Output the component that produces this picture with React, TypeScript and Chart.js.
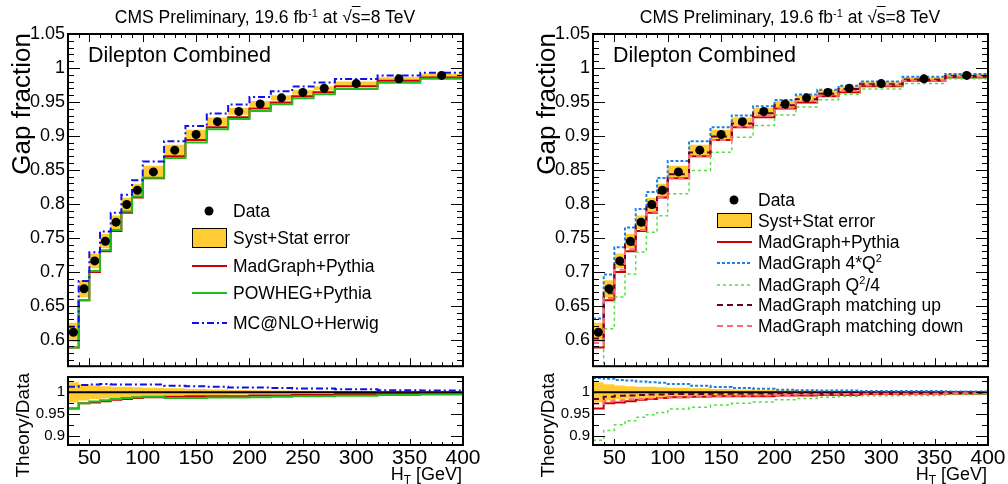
import React, { useEffect, useRef } from "react";
import { Chart, registerables } from "chart.js";

Chart.register(...registerables);

const FONT = '"Liberation Sans", Arial, Helvetica, sans-serif';
Chart.defaults.font.family = FONT;

// ---------------- data ----------------
const binEdges = [30, 40, 50, 60, 70, 80, 90, 100, 120, 140, 160, 180, 200, 220, 240, 260, 280, 320, 360, 400];

const gapData = [0.611, 0.675, 0.716, 0.745, 0.773, 0.799, 0.820, 0.847, 0.879, 0.902, 0.921, 0.936, 0.947, 0.956, 0.964, 0.970, 0.977, 0.984, 0.989];
const gapErr = [0.014, 0.0125, 0.011, 0.0105, 0.010, 0.010, 0.0095, 0.009, 0.008, 0.007, 0.006, 0.005, 0.0045, 0.004, 0.0035, 0.003, 0.003, 0.0025, 0.0025];

// Theory / Data ratios
const ratioMadGraph = [0.963, 0.975, 0.977, 0.980, 0.983, 0.985, 0.987, 0.989, 0.990, 0.991, 0.991, 0.991, 0.993, 0.993, 0.994, 0.994, 0.996, 0.997, 0.997];
const ratioPowheg = [0.963, 0.975, 0.979, 0.982, 0.985, 0.987, 0.989, 0.990, 0.987, 0.987, 0.988, 0.988, 0.989, 0.990, 0.991, 0.991, 0.992, 0.994, 0.995];
const ratioMcatnlo = [1.013, 1.017, 1.018, 1.019, 1.018, 1.018, 1.018, 1.018, 1.015, 1.014, 1.013, 1.011, 1.011, 1.010, 1.009, 1.009, 1.007, 1.005, 1.004];
const ratioScaleUp = [1.033, 1.031, 1.028, 1.027, 1.025, 1.023, 1.022, 1.019, 1.015, 1.012, 1.010, 1.008, 1.006, 1.005, 1.004, 1.004, 1.003, 1.003, 1.002];
const ratioScaleDown = [0.891, 0.913, 0.926, 0.935, 0.943, 0.949, 0.954, 0.962, 0.966, 0.971, 0.975, 0.978, 0.983, 0.986, 0.989, 0.991, 0.992, 0.993, 0.995];
const ratioMatchUp = [0.985, 0.990, 0.992, 0.993, 0.994, 0.995, 0.995, 0.996, 0.996, 0.997, 0.997, 0.997, 0.998, 0.998, 0.998, 0.999, 0.999, 0.999, 0.999];
const ratioMatchDown = [0.974, 0.980, 0.982, 0.984, 0.985, 0.986, 0.987, 0.989, 0.990, 0.991, 0.992, 0.993, 0.994, 0.995, 0.995, 0.996, 0.997, 0.997, 0.998];

const ratioUnity = [1, 1];

const xTicks = [50, 100, 150, 200, 250, 300, 350, 400];
const yTicksMain = [0.6, 0.65, 0.7, 0.75, 0.8, 0.85, 0.9, 0.95, 1.0, 1.05];
const yTicksRatio = [0.9, 0.95, 1.0];

// ---------------- layout / style ----------------
const X_MIN = 30, X_MAX = 400;
const MAIN_Y_MIN = 0.561, MAIN_Y_MAX = 1.05;
const RATIO_Y_MIN = 0.88, RATIO_Y_MAX = 1.035;
const BAND_COLOR = "#ffcc33";
const CANVAS_W = 483;
const LEGEND_SIZE = 17.5;

type Seg = { t: string; sup?: boolean };
type Series = { label: Seg[]; ratio: number[]; color: string; dash: number[]; width: number };

const leftSeries: Series[] = [
  { label: [{ t: "MadGraph+Pythia" }], ratio: ratioMadGraph, color: "#cc0000", dash: [], width: 2 },
  { label: [{ t: "POWHEG+Pythia" }], ratio: ratioPowheg, color: "#22bb22", dash: [], width: 2 },
  { label: [{ t: "MC@NLO+Herwig" }], ratio: ratioMcatnlo, color: "#1010ee", dash: [7, 3, 2, 3], width: 2 },
];

const rightSeries: Series[] = [
  { label: [{ t: "MadGraph+Pythia" }], ratio: ratioMadGraph, color: "#cc0000", dash: [], width: 2 },
  { label: [{ t: "MadGraph 4*Q" }, { t: "2", sup: true }], ratio: ratioScaleUp, color: "#2080dd", dash: [3, 2], width: 2 },
  { label: [{ t: "MadGraph Q" }, { t: "2", sup: true }, { t: "/4" }], ratio: ratioScaleDown, color: "#55dd44", dash: [3, 3], width: 1.5 },
  { label: [{ t: "MadGraph matching up" }], ratio: ratioMatchUp, color: "#660033", dash: [6, 4], width: 2 },
  { label: [{ t: "MadGraph matching down" }], ratio: ratioMatchDown, color: "#ff6b6b", dash: [6, 4], width: 2 },
];

const binCenters = binEdges.slice(0, -1).map((e, i) => (e + binEdges[i + 1]) / 2);

// step-histogram points: value of bin i drawn from edge i to edge i+1
function hist(vals: number[]) {
  return binEdges.map((e, i) => ({ x: e, y: vals[Math.min(i, vals.length - 1)] }));
}

const fmtTick = (v: any) => String(Number(Number(v).toFixed(3)));

// ---------------- plugins ----------------
type FrameCfg = {
  yMajor: number[]; yMinorStep: number; yMajLen: number; yMinLen: number;
  xMajLen: number; xMinLen: number; xTopMajLen: number; xTopMinLen: number;
};

function makeFramePlugin(f: FrameCfg) {
  return {
    id: "rootFrame",
    afterDatasetsDraw(chart: any) {
      const { ctx, chartArea: a } = chart;
      const xs = chart.scales.x, ys = chart.scales.y;
      ctx.save();
      ctx.strokeStyle = "#000";
      ctx.lineWidth = 1;
      ctx.setLineDash([]);
      ctx.beginPath();
      for (let k = Math.ceil(X_MIN / 10); k <= Math.floor(X_MAX / 10); k++) {
        const v = k * 10;
        const major = xTicks.indexOf(v) >= 0;
        const p = Math.round(xs.getPixelForValue(v)) + 0.5;
        const lb = major ? f.xMajLen : f.xMinLen;
        const lt = major ? f.xTopMajLen : f.xTopMinLen;
        ctx.moveTo(p, a.bottom); ctx.lineTo(p, a.bottom - lb);
        if (lt > 0) { ctx.moveTo(p, a.top); ctx.lineTo(p, a.top + lt); }
      }
      const ymin = ys.min, ymax = ys.max;
      for (let k = Math.ceil(ymin / f.yMinorStep - 1e-6); k <= Math.floor(ymax / f.yMinorStep + 1e-6); k++) {
        const v = k * f.yMinorStep;
        const major = f.yMajor.some((m) => Math.abs(m - v) < 1e-6);
        const p = Math.round(ys.getPixelForValue(v)) + 0.5;
        const l = major ? f.yMajLen : f.yMinLen;
        ctx.moveTo(a.left, p); ctx.lineTo(a.left + l, p);
        ctx.moveTo(a.right, p); ctx.lineTo(a.right - l, p);
      }
      ctx.stroke();
      ctx.lineWidth = 2;
      ctx.strokeRect(a.left, a.top, a.right - a.left, a.bottom - a.top);
      ctx.restore();
    },
  };
}

type LegendEntry =
  | { kind: "marker"; y: number; label: Seg[] }
  | { kind: "box"; y: number; h: number; label: Seg[] }
  | { kind: "line"; y: number; label: Seg[]; color: string; dash: number[]; width: number };

function makeLegendPlugin(entries: LegendEntry[], size: number) {
  const x0 = 192, x1 = 227, textX = 233, markerX = 209;
  return {
    id: "rootLegend",
    afterDraw(chart: any) {
      const ctx = chart.ctx;
      ctx.save();
      for (const en of entries) {
        const y = en.y;
        if (en.kind === "marker") {
          ctx.beginPath();
          ctx.arc(markerX, y, 4.5, 0, Math.PI * 2);
          ctx.fillStyle = "#000";
          ctx.fill();
        } else if (en.kind === "box") {
          ctx.fillStyle = BAND_COLOR;
          ctx.fillRect(x0, y - en.h / 2, x1 - x0, en.h);
          ctx.strokeStyle = "#000";
          ctx.lineWidth = 1;
          ctx.setLineDash([]);
          ctx.strokeRect(x0 + 0.5, y - en.h / 2 + 0.5, x1 - x0 - 1, en.h - 1);
        } else {
          ctx.beginPath();
          ctx.setLineDash(en.dash);
          ctx.strokeStyle = en.color;
          ctx.lineWidth = en.width;
          ctx.moveTo(x0, y);
          ctx.lineTo(x1, y);
          ctx.stroke();
          ctx.setLineDash([]);
        }
        let x = textX;
        const base = y + 0.36 * size;
        ctx.fillStyle = "#000";
        ctx.textBaseline = "alphabetic";
        ctx.textAlign = "left";
        for (const seg of en.label) {
          const sz = seg.sup ? Math.round(size * 0.65) : size;
          ctx.font = `${sz}px ${FONT}`;
          ctx.fillText(seg.t, x, seg.sup ? base - size * 0.42 : base);
          x += ctx.measureText(seg.t).width;
        }
      }
      ctx.restore();
    },
  };
}

// ---------------- configs ----------------
function lineDs(label: string, data: any[], s: { color: string; dash: number[]; width: number }, order: number) {
  return {
    label,
    data,
    stepped: "before",
    borderColor: s.color,
    borderWidth: s.width,
    borderDash: s.dash,
    pointRadius: 0,
    fill: false,
    order,
  };
}

function bandDs(up: number[], down: number[]) {
  return [
    { label: "band up", data: hist(up), stepped: "before", borderColor: "rgba(0,0,0,0)", borderWidth: 0, pointRadius: 0, fill: false, order: 30 },
    { label: "band down", data: hist(down), stepped: "before", borderColor: "rgba(0,0,0,0)", borderWidth: 0, pointRadius: 0, fill: "-1", backgroundColor: BAND_COLOR, order: 29 },
  ];
}

function mainConfig(series: Series[], legend: LegendEntry[]): any {
  const datasets: any[] = [
    ...bandDs(gapData.map((v, i) => v + gapErr[i]), gapData.map((v, i) => v - gapErr[i])),
    ...series.map((s, k) => lineDs(s.label.map((x) => x.t).join(""), hist(gapData.map((v, i) => v * s.ratio[i])), s, 10 - k)),
    {
      label: "Data",
      data: binCenters.map((x, i) => ({ x, y: gapData[i] })),
      showLine: false,
      pointRadius: 4.5,
      pointHoverRadius: 4.5,
      pointBackgroundColor: "#000",
      pointBorderColor: "#000",
      pointBorderWidth: 0,
      order: 0,
    },
  ];
  return {
    type: "line",
    data: { datasets },
    options: {
      animation: false,
      responsive: false,
      maintainAspectRatio: false,
      events: [],
      layout: { padding: { left: 0, right: CANVAS_W - 463, top: 34, bottom: 5 } },
      scales: {
        x: { type: "linear", min: X_MIN, max: X_MAX, display: false },
        y: {
          type: "linear",
          min: MAIN_Y_MIN,
          max: MAIN_Y_MAX,
          afterFit: (s: any) => { s.width = 68; },
          afterBuildTicks: (s: any) => { s.ticks = yTicksMain.map((v) => ({ value: v })); },
          grid: { display: false, drawTicks: false, tickLength: 0 },
          border: { display: false },
          ticks: { autoSkip: false, padding: 3, color: "#000", font: { family: FONT, size: 18 }, callback: fmtTick },
        },
      },
      plugins: { legend: { display: false }, tooltip: { enabled: false } },
    },
    plugins: [
      makeFramePlugin({ yMajor: yTicksMain, yMinorStep: 0.01, yMajLen: 12, yMinLen: 6, xMajLen: 8, xMinLen: 4, xTopMajLen: 8, xTopMinLen: 4 }),
      makeLegendPlugin(legend, LEGEND_SIZE),
    ],
  };
}

function ratioConfig(series: Series[]): any {
  const datasets: any[] = [
    ...bandDs(gapData.map((v, i) => 1 + gapErr[i] / v), gapData.map((v, i) => 1 - gapErr[i] / v)),
    { ...lineDs("unity", [{ x: X_MIN, y: ratioUnity[0] }, { x: X_MAX, y: ratioUnity[1] }], { color: "#000", dash: [], width: 2 }, 20), stepped: false },
    ...series.map((s, k) => lineDs(s.label.map((x) => x.t).join(""), hist(s.ratio), s, 10 - k)),
  ];
  return {
    type: "line",
    data: { datasets },
    options: {
      animation: false,
      responsive: false,
      maintainAspectRatio: false,
      events: [],
      layout: { padding: { left: 0, right: CANVAS_W - 463, top: 10, bottom: 0 } },
      scales: {
        x: {
          type: "linear",
          min: X_MIN,
          max: X_MAX,
          afterFit: (s: any) => { s.height = 39; },
          afterBuildTicks: (s: any) => { s.ticks = xTicks.map((v) => ({ value: v })); },
          grid: { display: false, drawTicks: false, tickLength: 0 },
          border: { display: false },
          ticks: { autoSkip: false, maxRotation: 0, minRotation: 0, padding: 1, color: "#000", font: { family: FONT, size: 21 }, callback: fmtTick },
        },
        y: {
          type: "linear",
          min: RATIO_Y_MIN,
          max: RATIO_Y_MAX,
          afterFit: (s: any) => { s.width = 68; },
          afterBuildTicks: (s: any) => { s.ticks = yTicksRatio.map((v) => ({ value: v })); },
          grid: { display: false, drawTicks: false, tickLength: 0 },
          border: { display: false },
          ticks: { autoSkip: false, padding: 3, color: "#000", font: { family: FONT, size: 15 }, callback: fmtTick },
        },
      },
      plugins: { legend: { display: false }, tooltip: { enabled: false } },
    },
    plugins: [
      makeFramePlugin({ yMajor: yTicksRatio, yMinorStep: 0.025, yMajLen: 12, yMinLen: 6, xMajLen: 6, xMinLen: 3, xTopMajLen: 0, xTopMinLen: 0 }),
    ],
  };
}

// ---------------- components ----------------
function Panel({ left, series, legend }: { left: number; series: Series[]; legend: LegendEntry[] }) {
  const mainRef = useRef<HTMLCanvasElement>(null);
  const ratioRef = useRef<HTMLCanvasElement>(null);
  useEffect(() => {
    const main = new Chart(mainRef.current as HTMLCanvasElement, mainConfig(series, legend));
    const ratio = new Chart(ratioRef.current as HTMLCanvasElement, ratioConfig(series));
    return () => {
      main.destroy();
      ratio.destroy();
    };
  }, []);
  const abs: React.CSSProperties = { position: "absolute", whiteSpace: "nowrap", color: "#000" };
  return (
    <div style={{ position: "absolute", left, top: 0, width: CANVAS_W, height: 484 }}>
      <canvas ref={mainRef} width={CANVAS_W} height={380} style={{ position: "absolute", left: 0, top: 0 }} />
      <canvas ref={ratioRef} width={CANVAS_W} height={119} style={{ position: "absolute", left: 0, top: 365 }} />
      <div style={{ ...abs, left: 0, top: 9, width: 530, textAlign: "center", fontSize: 17.5, lineHeight: "17px" }}>
        CMS Preliminary, 19.6 fb<span style={{ fontSize: 11, position: "relative", top: -6 }}>-1</span> at √
        <span style={{ textDecoration: "overline" }}>s</span>=8 TeV
      </div>
      <div style={{ ...abs, left: 88, top: 44, fontSize: 21.5, lineHeight: "22px" }}>Dilepton Combined</div>
      <div
        style={{
          ...abs, left: 6, top: 233, width: 200, height: 30, lineHeight: "30px", fontSize: 26,
          textAlign: "right", transformOrigin: "0 0", transform: "rotate(-90deg)",
        }}
      >
        Gap fraction
      </div>
      <div
        style={{
          ...abs, left: 11, top: 523, width: 150, height: 24, lineHeight: "24px", fontSize: 19,
          textAlign: "right", transformOrigin: "0 0", transform: "rotate(-90deg)",
        }}
      >
        Theory/Data
      </div>
      <div style={{ ...abs, left: 262, top: 465, width: 200, textAlign: "right", fontSize: 18, lineHeight: "18px" }}>
        H<span style={{ fontSize: 12, position: "relative", top: 4 }}>T</span> [GeV]
      </div>
    </div>
  );
}

const lineEntry = (s: Series, y: number): LegendEntry => ({ kind: "line", y, label: s.label, color: s.color, dash: s.dash, width: s.width });

const leftLegend: LegendEntry[] = [
  { kind: "marker", y: 211, label: [{ t: "Data" }] },
  { kind: "box", y: 238, h: 20, label: [{ t: "Syst+Stat error" }] },
  lineEntry(leftSeries[0], 266),
  lineEntry(leftSeries[1], 293),
  lineEntry(leftSeries[2], 323),
];

const rightLegend: LegendEntry[] = [
  { kind: "marker", y: 200, label: [{ t: "Data" }] },
  { kind: "box", y: 220.5, h: 15, label: [{ t: "Syst+Stat error" }] },
  lineEntry(rightSeries[0], 242),
  lineEntry(rightSeries[1], 263),
  lineEntry(rightSeries[2], 285),
  lineEntry(rightSeries[3], 305),
  lineEntry(rightSeries[4], 326),
];

export default function App() {
  return (
    <div style={{ position: "absolute", left: 0, top: 0, width: 1008, height: 484, background: "#fff", overflow: "hidden", fontFamily: FONT }}>
      <Panel left={0} series={leftSeries} legend={leftLegend} />
      <Panel left={525} series={rightSeries} legend={rightLegend} />
    </div>
  );
}
